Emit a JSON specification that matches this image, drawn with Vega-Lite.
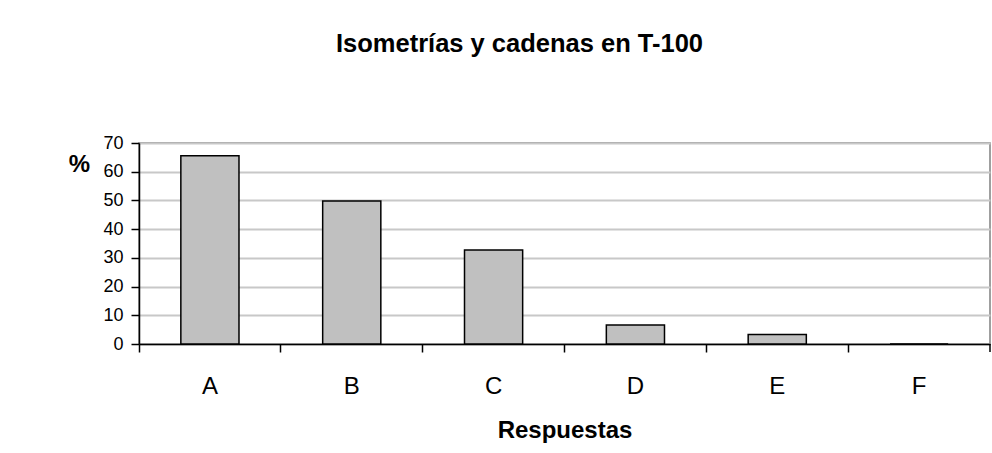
{
  "$schema": "https://vega.github.io/schema/vega-lite/v6.json",
  "autosize": {"type": "none"},
  "width": 851,
  "height": 201,
  "padding": {"left": 139, "top": 143, "right": 2, "bottom": 109},
  "background": "white",
  "config": {
    "font": "Liberation Sans",
    "view": {"stroke": "#808080", "strokeWidth": 1.5}
  },
  "title": {
    "text": "Isometrías y cadenas en T-100",
    "fontSize": 25.5,
    "fontWeight": "bold",
    "color": "black",
    "anchor": "middle",
    "frame": "group",
    "dx": -45,
    "baseline": "alphabetic",
    "offset": 57
  },
  "data": {
    "values": [
      {"respuesta": "A", "pct": 65.6},
      {"respuesta": "B", "pct": 49.8},
      {"respuesta": "C", "pct": 32.7},
      {"respuesta": "D", "pct": 6.6},
      {"respuesta": "E", "pct": 3.3},
      {"respuesta": "F", "pct": 0}
    ]
  },
  "layer": [
    {
      "mark": {"type": "bar", "fill": "#c0c0c0", "stroke": "black", "strokeWidth": 1.5, "width": {"band": 0.41}},
      "encoding": {
        "x": {
          "field": "respuesta",
          "type": "nominal",
          "scale": {"paddingInner": 0, "paddingOuter": 0},
          "axis": {
            "title": "Respuestas",
            "titleFontSize": 24,
            "titleFontWeight": "bold",
            "titleColor": "black",
            "titlePadding": 20,
            "labelAngle": 0,
            "labelFontSize": 24,
            "labelColor": "black",
            "labelPadding": 22,
            "bandPosition": 0,
            "tickSize": 8,
            "tickColor": "black",
            "tickWidth": 1.5,
            "domainColor": "black",
            "domainWidth": 1.5,
            "grid": false
          }
        },
        "y": {
          "field": "pct",
          "type": "quantitative",
          "scale": {"domain": [0, 70], "nice": false},
          "axis": {
            "values": [0, 10, 20, 30, 40, 50, 60, 70],
            "labelOverlap": false,
            "title": "%",
            "titleAngle": 0,
            "titleX": -60,
            "titleY": 21,
            "titleAlign": "center",
            "titleBaseline": "middle",
            "titleFontSize": 24,
            "titleFontWeight": "bold",
            "titleColor": "black",
            "labelFontSize": 18,
            "labelColor": "black",
            "labelPadding": 8,
            "tickSize": 8,
            "tickColor": "black",
            "tickWidth": 1.5,
            "domainColor": "black",
            "domainWidth": 1.5,
            "grid": true,
            "gridColor": "#c8c8c8",
            "gridWidth": 2
          }
        }
      }
    },
    {
      "data": {"values": [{"marca": "fin"}]},
      "mark": {"type": "rule", "color": "black", "strokeWidth": 1.5},
      "encoding": {
        "x": {"datum": "F", "bandPosition": 1},
        "y": {"value": {"expr": "height"}},
        "y2": {"value": {"expr": "height + 8"}}
      }
    }
  ]
}
